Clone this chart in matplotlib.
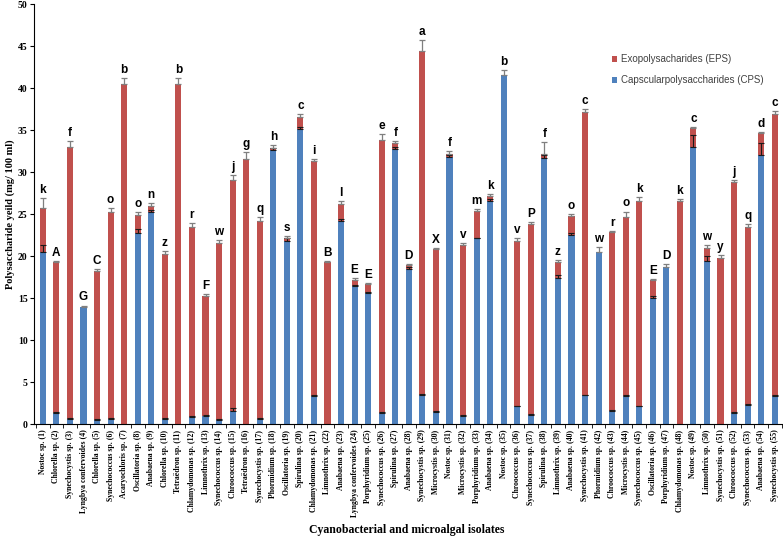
import matplotlib
matplotlib.use("Agg")
import matplotlib.pyplot as plt
import numpy as np

names = [
    "Nostoc sp.", "Chlorella sp.", "Synechocystis sp.", "Lyngbya confervoides", "Chlorella sp.",
    "Synechococcus sp.", "Acaryochloris sp.", "Oscillatoria sp.", "Anabaena sp.", "Chlorella sp.",
    "Tetraëdron sp.", "Chlamydomonas sp.", "Limnothrix sp.", "Synechococcus sp.", "Chroococcus sp.",
    "Tetraëdron sp.", "Synechocystis sp.", "Phormidium sp.", "Oscillatoria sp.", "Spirulina sp.",
    "Chlamydomonas sp.", "Limnothrix sp.", "Anabaena sp.", "Lyngbya confervoides", "Porphyridium sp.",
    "Synechococcus sp.", "Spirulina sp.", "Anabaena sp.", "Synechocystis sp.", "Microcystis sp.",
    "Nostoc sp.", "Microcystis sp.", "Porphyridium sp.", "Anabaena sp.", "Nostoc sp.",
    "Chroococcus sp.", "Synechococcus sp.", "Spirulina sp.", "Limnothrix sp.", "Anabaena sp.",
    "Synechocystis sp.", "Phormidium sp.", "Chroococcus sp.", "Microcystis sp.", "Synechococcus sp.",
    "Oscillatoria sp.", "Porphyridium sp.", "Chlamydomonas sp.", "Nostoc sp.", "Limnothrix sp.",
    "Synechocystis sp.", "Chroococcus sp.", "Synechococcus sp.", "Anabaena sp.", "Synechocystis sp.",
]
tick_labels = [f"{n} ({i + 1})" for i, n in enumerate(names)]

cps = [20.5, 1.3, 0.6, 13.9, 0.5, 0.6, 0.0, 22.8, 25.3, 0.6,
       0.0, 0.8, 1.0, 0.5, 1.6, 0.0, 0.6, 32.6, 21.8, 35.1,
       3.3, 0.0, 24.2, 16.4, 15.6, 1.3, 32.7, 18.5, 3.5, 1.4,
       31.8, 1.0, 22.1, 26.5, 41.5, 2.1, 1.1, 31.7, 17.4, 22.5,
       3.4, 20.5, 1.6, 3.3, 2.1, 15.0, 18.7, 0.0, 33.0, 19.4,
       0.0, 1.3, 2.3, 32.0, 3.3]
eps = [5.2, 18.0, 32.4, 0.0, 17.7, 24.7, 40.5, 2.1, 0.6, 19.6,
       40.5, 22.7, 14.3, 21.1, 27.4, 31.6, 23.6, 0.3, 0.4, 1.5,
       28.0, 19.3, 2.0, 0.7, 1.1, 32.5, 0.7, 0.4, 40.9, 19.4,
       0.4, 20.3, 3.3, 0.7, 0.0, 19.7, 22.7, 0.5, 1.9, 2.3,
       33.8, 0.0, 21.3, 21.4, 24.4, 2.2, 0.0, 26.5, 2.2, 1.6,
       19.8, 27.5, 21.2, 2.6, 33.6]

err_total = [1.2, 0.1, 0.7, 0.2, 0.2, 0.4, 0.7, 0.3, 0.4, 0.4,
             0.7, 0.4, 0.2, 0.3, 0.6, 0.8, 0.4, 0.3, 0.2, 0.3,
             0.2, 0.1, 0.3, 0.3, 0.1, 0.7, 0.3, 0.2, 1.3, 0.2,
             0.3, 0.3, 0.2, 0.2, 0.6, 0.3, 0.3, 1.4, 0.2, 0.2,
             0.3, 0.6, 0.1, 0.6, 0.5, 0.1, 0.3, 0.3, 0.2, 0.3,
             0.3, 0.2, 0.3, 0.2, 0.4]
err_cps = [0.8, 0.1, 0.1, 0.0, 0.1, 0.1, 0.0, 0.4, 0.2, 0.1,
           0.0, 0.1, 0.1, 0.1, 0.3, 0.0, 0.1, 0.3, 0.4, 0.3,
           0.1, 0.0, 0.2, 0.2, 0.1, 0.1, 0.3, 0.2, 0.1, 0.1,
           0.2, 0.1, 0.1, 0.3, 0.0, 0.1, 0.1, 0.3, 0.3, 0.2,
           0.1, 0.0, 0.1, 0.1, 0.1, 0.3, 0.0, 0.0, 1.4, 0.6,
           0.0, 0.1, 0.1, 1.5, 0.1]

letters = ["k", "A", "f", "G", "C", "o", "b", "o", "n", "z",
           "b", "r", "F", "w", "j", "g", "q", "h", "s", "c",
           "i", "B", "l", "E", "E", "e", "f", "D", "a", "X",
           "f", "v", "m", "k", "b", "v", "P", "f", "z", "o",
           "c", "w", "r", "o", "k", "E", "D", "k", "c", "w",
           "y", "j", "q", "d", "c"]

RED = "#C0504D"
BLUE = "#4F81BD"

x = np.arange(len(names))
cps_a = np.array(cps)
eps_a = np.array(eps)
total = cps_a + eps_a
zero = np.zeros(len(x))

fig = plt.figure(figsize=(7.83, 5.37), dpi=100)
ax = fig.add_axes([0.044, 0.2104, 0.955, 0.782])

w = 0.45
b_cps = ax.bar(x, cps_a, width=w, color=BLUE, label="Capscularpolysaccharides (CPS)")
b_eps = ax.bar(x, eps_a, width=w, bottom=cps_a, color=RED, label="Exopolysacharides (EPS)")

has_cps = (cps_a > 0) & (eps_a > 0)
ax.errorbar(x[has_cps], cps_a[has_cps], yerr=[zero[has_cps], np.array(err_cps)[has_cps]],
            fmt="none", ecolor="#1a1a1a", elinewidth=0.8, capsize=2, capthick=0.8)
ax.errorbar(x, total, yerr=[zero, np.array(err_total)], fmt="none",
            ecolor="#7f7f7f", elinewidth=0.9, capsize=2, capthick=0.9)

for xi, t, e, lab in zip(x, total, err_total, letters):
    ax.text(xi, t + e + 0.25, lab, ha="center", va="bottom", fontsize=8.5,
            fontweight="bold", family="Liberation Sans")

ax.set_xlim(-0.62, len(x) - 0.45)
ax.set_ylim(0, 50)
ax.set_yticks(range(0, 51, 5))
ax.set_xticks(x)
ax.set_xticklabels(tick_labels, rotation=90, fontsize=5.6, fontweight="bold",
                   family="Liberation Serif")
ax.set_xticks(np.arange(-0.5, len(x), 1), minor=True)
ax.tick_params(axis="x", which="major", length=0, pad=4)
ax.tick_params(axis="x", which="minor", length=3, direction="out")
ax.tick_params(axis="y", length=3, direction="out", labelsize=7, pad=2)
for lbl in ax.get_yticklabels():
    lbl.set_fontweight("bold")
    lbl.set_family("Liberation Serif")

ax.spines["top"].set_visible(False)
ax.spines["right"].set_visible(False)

ax.set_ylabel("Polysaccharide yeild (mg/ 100 ml)", fontsize=7.5, fontweight="bold",
              family="Liberation Serif", labelpad=2)
fig.text(0.52, 0.013, "Cyanobacterial and microalgal isolates", ha="center", va="center",
         fontsize=8.5, fontweight="bold", family="Liberation Serif")

leg = fig.legend(handles=[b_eps, b_cps], loc="upper left", bbox_to_anchor=(0.77, 0.915),
                 frameon=False, handlelength=0.6, handleheight=0.6,
                 handletextpad=0.4, labelspacing=1.1, prop={"family": "Liberation Sans", "size": 7})
for t in leg.get_texts():
    t.set_color("#404040")

fig.savefig("out.png", dpi=100)
